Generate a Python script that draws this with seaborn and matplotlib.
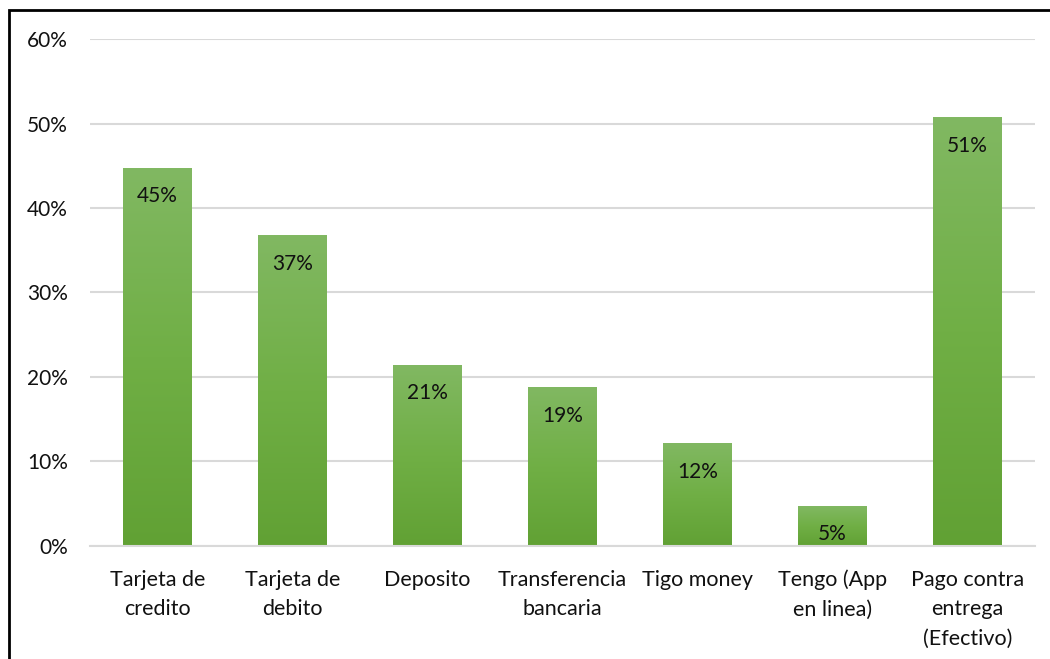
"""Metodos de pago - bar chart."""

import matplotlib

matplotlib.use("Agg")
import matplotlib.pyplot as plt
import numpy as np
import pandas as pd
import seaborn as sns
from matplotlib.colors import LinearSegmentedColormap
from matplotlib.patches import Rectangle

CATEGORIES = [
    "Tarjeta de\ncredito",
    "Tarjeta de\ndebito",
    "Deposito",
    "Transferencia\nbancaria",
    "Tigo money",
    "Tengo (App\nen linea)",
    "Pago contra\nentrega\n(Efectivo)",
]
VALUES = [0.447, 0.367, 0.214, 0.187, 0.121, 0.047, 0.507]
Y_TICKS = [0.0, 0.1, 0.2, 0.3, 0.4, 0.5, 0.6]

GRID_COLOR = "#D9D9D9"
GREEN_GRADIENT = LinearSegmentedColormap.from_list(
    "bar_green", ["#61A134", "#70AF45", "#81B862"]
)


def main() -> None:
    sns.set_theme(style="white")
    plt.rcParams["font.family"] = ["Lato", "DejaVu Sans"]

    df = pd.DataFrame({"metodo": CATEGORIES, "valor": VALUES})

    fig = plt.figure(figsize=(10.5, 6.59), dpi=100)
    ax = fig.add_axes([0.0857, 0.1715, 0.9, 0.7693])

    sns.barplot(data=df, x="metodo", y="valor", color="#70AF45", width=0.51, ax=ax)

    # replace flat fill with a vertical gradient, like the original
    gradient = np.linspace(0, 1, 256).reshape(-1, 1)
    for patch, value in zip(ax.patches, VALUES, strict=False):
        x0 = patch.get_x()
        w = patch.get_width()
        patch.set_facecolor("none")
        patch.set_edgecolor("none")
        ax.imshow(
            gradient,
            cmap=GREEN_GRADIENT,
            origin="lower",
            aspect="auto",
            extent=(x0, x0 + w, 0, patch.get_height()),
            zorder=2,
        )
        ax.annotate(
            f"{value * 100:.0f}%",
            xy=(x0 + w / 2, patch.get_height()),
            xytext=(0, -28),
            textcoords="offset pixels",
            ha="center",
            va="center",
            fontsize=15,
            color="#111111",
            zorder=3,
        )

    ax.set_xlim(-0.5, len(CATEGORIES) - 0.5)
    ax.set_ylim(0, 0.6)
    ax.set_yticks(Y_TICKS)
    ax.set_yticklabels([f"{t * 100:.0f}%" for t in Y_TICKS])
    ax.set_xlabel("")
    ax.set_ylabel("")

    ax.grid(axis="y", color=GRID_COLOR, linewidth=1.5, zorder=0)
    ax.set_axisbelow(True)
    for side in ["top", "right", "left"]:
        ax.spines[side].set_visible(False)
    ax.spines["bottom"].set_color(GRID_COLOR)
    ax.spines["bottom"].set_linewidth(1.5)

    ax.tick_params(axis="y", length=0, pad=16, labelsize=15, labelcolor="#111111")
    ax.tick_params(axis="x", length=0, pad=17, labelsize=15.5, labelcolor="#111111")
    for label in ax.get_xticklabels():
        label.set_linespacing(1.6)
        label.set_verticalalignment("top")

    # outer frame of the chart box
    fig.patches.append(
        Rectangle(
            (9 / 1050, -0.1),
            1.2,
            1.1 - 9.5 / 659,
            transform=fig.transFigure,
            fill=False,
            edgecolor="black",
            linewidth=2,
        )
    )

    fig.savefig("out.png", dpi=100)


if __name__ == "__main__":
    main()
